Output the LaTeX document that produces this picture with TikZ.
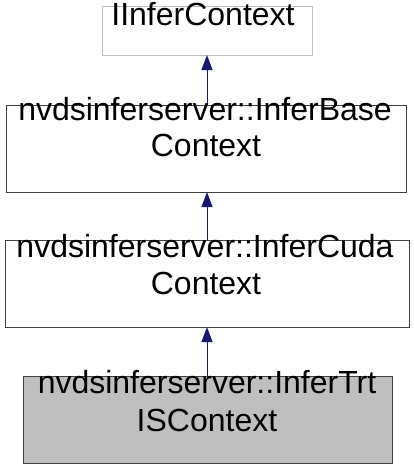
\documentclass[tikz,border=0pt]{standalone}
\usepackage{fontspec}
\setmainfont{Liberation Sans}
\usetikzlibrary{arrows.meta}
\definecolor{lightbord}{HTML}{BFBFBF}
\definecolor{darkbord}{HTML}{404040}
\definecolor{edgeblue}{HTML}{191970}
\definecolor{curfill}{HTML}{BFBFBF}
\tikzset{
  box/.style={draw=darkbord, line width=1pt, fill=white, inner sep=0pt, outer sep=0pt, rectangle},
  lbl/.style={inner sep=0pt, outer sep=0pt, anchor=base, font=\fontsize{32}{37}\selectfont, text=black},
  inh/.style={draw=edgeblue, line width=1pt, -{Triangle[length=15pt,width=11pt]}}
}
\begin{document}
\begin{tikzpicture}[x=1pt,y=-1pt]
\useasboundingbox (0,0) rectangle (413,469);
\node[box, draw=lightbord, minimum width=210pt, minimum height=49pt] (b1) at (207,30.5) {};
\node[box, minimum width=400pt, minimum height=87pt] (b2) at (206,148.5) {};
\node[box, minimum width=404pt, minimum height=87pt] (b3) at (207,283.5) {};
\node[box, fill=curfill, minimum width=369pt, minimum height=87pt] (b4) at (207.5,419.5) {};
\draw[inh] (b2.north -| b1.south) -- (b1.south);
\draw[inh] (b3.north -| b1.south) -- (b1.south |- b2.south);
\draw[inh] (b4.north -| b1.south) -- (b1.south |- b3.south);
\node[lbl] (t1) at (203,25) {IInferContext};
\node[lbl] (t2a) at (205,120) {nvdsinferserver::InferBase};
\node[lbl] (t2b) at (206,156) {Context};
\node[lbl] (t3a) at (205,257) {nvdsinferserver::InferCuda};
\node[lbl] (t3b) at (206,294) {Context};
\node[lbl] (t4a) at (207,393) {nvdsinferserver::InferTrt};
\node[lbl] (t4b) at (207,431) {ISContext};
\end{tikzpicture}
\end{document}
